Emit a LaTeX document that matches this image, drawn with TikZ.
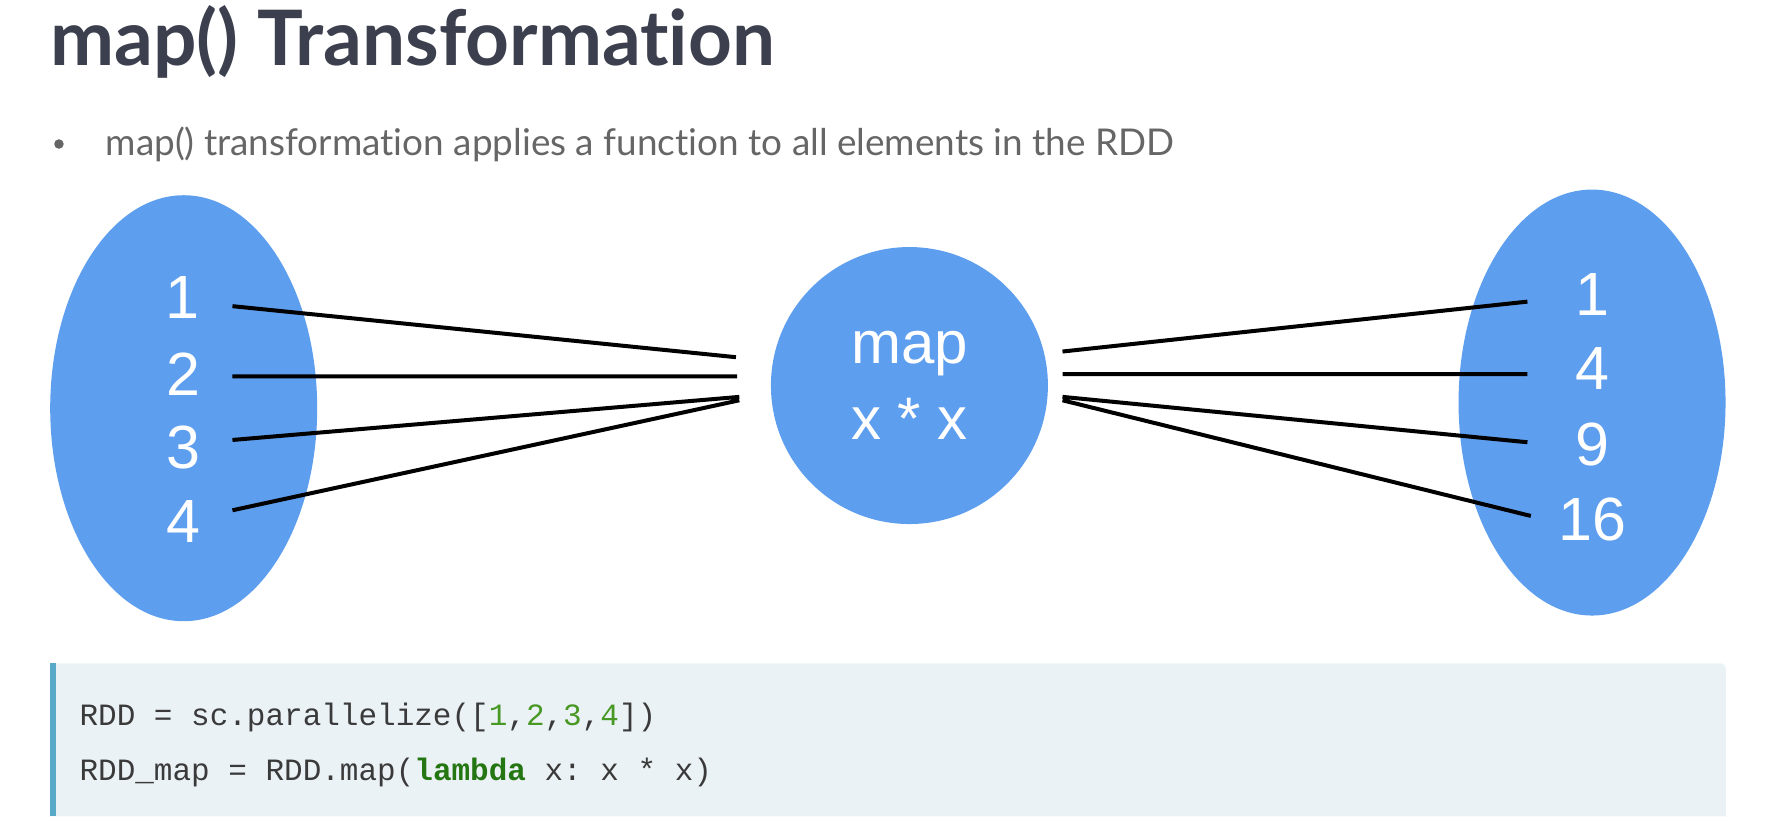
\documentclass[tikz,border=0pt]{standalone}
\usepackage{fontspec}
\setmainfont{Lato}[Ligatures=NoCommon]
\setsansfont{Liberation Sans}
\setmonofont{Liberation Mono}
\usetikzlibrary{positioning, shapes.geometric}
\definecolor{setblue}{RGB}{94,158,238}
\definecolor{titlegray}{RGB}{60,63,77}
\definecolor{textgray}{RGB}{102,102,102}
\definecolor{codebg}{RGB}{235,242,246}
\definecolor{codebar}{RGB}{88,168,200}
\definecolor{codetext}{RGB}{58,58,58}
\definecolor{numgreen}{RGB}{72,152,36}
\definecolor{kwgreen}{RGB}{36,118,18}
\tikzset{
	rdd/.style={ellipse, fill=setblue, minimum width=267pt, minimum height=426pt, inner sep=0pt}, % the two data sets
	mapfn/.style={circle, fill=setblue, minimum size=277pt, inner sep=0pt, align=center, text=white,
		font=\sffamily\fontsize{60}{76}\selectfont}, % the function in the middle
	elem/.style={text=white, inner sep=0pt, font=\sffamily\fontsize{61}{61}\selectfont}, % one element of a set
	wire/.style={line width=4pt, black}, % element to function
	codeline/.style={anchor=base west, inner sep=0pt, text=codetext, font=\ttfamily\fontsize{31}{31}\selectfont},
}

\begin{document}
\begin{tikzpicture}[x=1.134pt, y=-1.134pt]
	\useasboundingbox (0,0) rectangle (1568,732);

	% heading
	\node[anchor=base west, inner sep=0pt, text=titlegray, font=\bfseries\fontsize{76.5}{76.5}\selectfont] (title) at (44,58) {map() Transformation};
	\fill[textgray] (52,127) circle (4.2);
	\node[anchor=base west, inner sep=0pt, text=textgray, font=\fontsize{36.9}{36.9}\selectfont] (bullet) at (93,137) {map() transformation applies a function to all elements in the RDD};

	% sets and function
	\node[rdd] (input) at (162,360) {};
	\node[rdd] (output) at (1404,355) {};
	\node[mapfn] (fn) at (802,340) {map\\x * x};

	\node[elem] (in1) at (161,262) {1};
	\node[elem] (in2) at (162,330) {2};
	\node[elem] (in3) at (162,395) {3};
	\node[elem] (in4) at (162,460) {4};

	\node[elem] (out1) at (1404,260) {1};
	\node[elem] (out4) at (1404,325) {4};
	\node[elem] (out9) at (1404,392) {9};
	\node[elem] (out16) at (1404,458) {16};

	% free ends of the wires
	\coordinate (a1) at (205,270);
	\coordinate (a2) at (205,332);
	\coordinate (a3) at (205,388);
	\coordinate (a4) at (205,450);
	\coordinate (b1) at (649,315);
	\coordinate (b2) at (650,332);
	\coordinate (b3) at (652,350);
	\coordinate (b4) at (652,353);
	\coordinate (c1) at (937,310);
	\coordinate (c2) at (937,330);
	\coordinate (c3) at (937,350);
	\coordinate (c4) at (937,353);
	\coordinate (d1) at (1347,266);
	\coordinate (d2) at (1347,330);
	\coordinate (d3) at (1347,390);
	\coordinate (d4) at (1350,455);

	\draw[wire] (a1) -- (b1)
			(a2) -- (b2)
			(a3) -- (b3)
			(a4) -- (b4);
	\draw[wire] (c1) -- (d1)
			(c2) -- (d2)
			(c3) -- (d3)
			(c4) -- (d4);

	% code block
	\fill[codebg] (44,720) [rounded corners=5pt] -- (44,585) -- (1522,585) [sharp corners] -- (1522,720) -- cycle;
	\fill[codebar] (44,585) rectangle (49.5,720);
	\node[codeline] (code1) at (70,640) {RDD = sc.parallelize([\textcolor{numgreen}{1},\textcolor{numgreen}{2},\textcolor{numgreen}{3},\textcolor{numgreen}{4}])};
	\node[codeline] (code2) at (70,688) {RDD\_map = RDD.map(\textcolor{kwgreen}{\bfseries lambda} x: x * x)};
\end{tikzpicture}
\end{document}
